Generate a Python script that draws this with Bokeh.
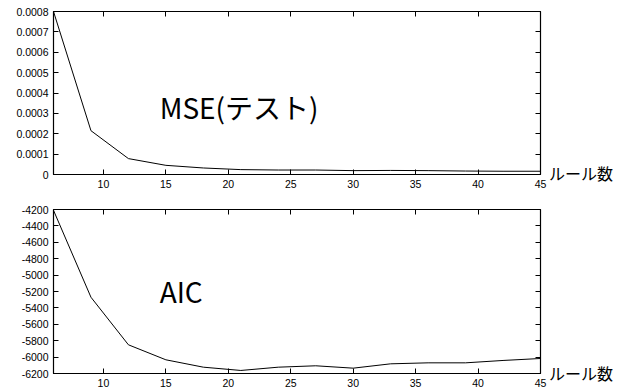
from bokeh.plotting import figure
from bokeh.models import LinearAxis, FixedTicker, Label, NumeralTickFormatter, Range1d, Div
from bokeh.layouts import column, row
from bokeh.embed import file_html
from bokeh.resources import INLINE

rules = [6, 9, 12, 15, 18, 21, 24, 27, 30, 33, 36, 39, 42, 45]
mse = [0.0008, 0.000215, 0.000078, 0.000045, 0.000032, 0.000024, 0.000022,
       0.000022, 0.000019, 0.000020, 0.000019, 0.000017, 0.000016, 0.000016]
aic = [-4210, -5270, -5850, -6033, -6123, -6163, -6123, -6106, -6135,
       -6082, -6070, -6070, -6041, -6017]
x_ticks = [10, 15, 20, 25, 30, 35, 40, 45]
mse_ticks = [0, 0.0001, 0.0002, 0.0003, 0.0004, 0.0005, 0.0006, 0.0007, 0.0008]
aic_ticks = [-6200, -6000, -5800, -5600, -5400, -5200, -5000, -4800, -4600, -4400, -4200]
x_label = "ルール数"
mse_title = "MSE(テスト)"
aic_title = "AIC"

TICK_FONT = "Liberation Sans"
CJK_FONT = "Noto Sans CJK JP"


def style_axis(ax, ticks, show_labels=True):
    ax.ticker = FixedTicker(ticks=ticks)
    ax.major_tick_in = 5
    ax.major_tick_out = 0
    ax.minor_tick_line_color = None
    ax.major_tick_line_color = "black"
    ax.axis_line_color = "black"
    ax.major_label_text_font = TICK_FONT
    ax.major_label_text_color = "black"
    if show_labels:
        ax.major_label_text_font_size = "10.5px"
        ax.major_label_standoff = 5
    else:
        ax.major_label_text_font_size = "1px"
        ax.major_label_text_color = None
        ax.major_label_standoff = 0
        ax.axis_line_color = None


def make_panel(ys, yticks, y0, y1, title, title_y, top, bottom, fmt):
    p = figure(width=548, height=196, output_backend="svg", toolbar_location=None,
               x_range=Range1d(6, 45), y_range=Range1d(y0, y1),
               min_border_left=53, min_border_right=8,
               min_border_top=top, min_border_bottom=bottom)
    p.grid.grid_line_color = None
    p.outline_line_color = "black"
    p.outline_line_width = 1.2
    p.background_fill_color = "white"
    p.border_fill_color = "white"
    style_axis(p.xaxis[0], x_ticks)
    style_axis(p.yaxis[0], yticks)
    p.yaxis[0].formatter = fmt
    top_ax = LinearAxis()
    style_axis(top_ax, x_ticks, show_labels=False)
    p.add_layout(top_ax, "above")
    right_ax = LinearAxis()
    style_axis(right_ax, yticks, show_labels=False)
    p.add_layout(right_ax, "right")
    p.line(rules, ys, line_color="black", line_width=1)
    p.add_layout(Label(x=14.5, y=title_y, text=title, text_font=CJK_FONT,
                       text_font_size="28px", text_color="black",
                       text_baseline="alphabetic"))
    return p


def side_label(pad_top):
    return Div(text=x_label, width=71, height=196,
               styles={"font-family": CJK_FONT, "font-size": "16px", "color": "black",
                       "line-height": "18px", "padding-top": f"{pad_top}px",
                       "padding-left": "1px", "white-space": "nowrap",
                       "box-sizing": "border-box", "overflow": "hidden",
                       "margin": "0px"})


p1 = make_panel(mse, mse_ticks, 0, 0.0008, mse_title, 0.000329, 11, 22,
                NumeralTickFormatter(format="0.[0000]"))
p2 = make_panel(aic, aic_ticks, -6200, -4200, aic_title, -5188, 13, 19,
                NumeralTickFormatter(format="0"))

layout = column(row(p1, side_label(164)), row(p2, side_label(168)), spacing=0)
open("out.html", "w").write(file_html(layout, INLINE))
